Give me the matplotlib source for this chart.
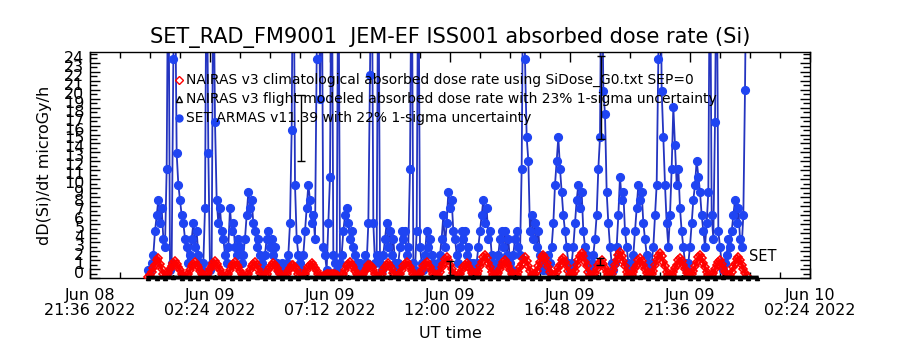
import numpy as np
import matplotlib
matplotlib.use("Agg")
import matplotlib.pyplot as plt
import matplotlib.dates as mdates
from matplotlib.ticker import MultipleLocator
from matplotlib.lines import Line2D

plt.rcParams['font.family'] = ['DejaVu Sans']

# ---------------- data ----------------
title = "SET_RAD_FM9001  JEM-EF ISS001 absorbed dose rate (Si)"
ylabel = "dD(Si)/dt microGy/h"
xlabel = "UT time"
legend_labels = [
    "NAIRAS v3 climatological absorbed dose rate using SiDose_G0.txt SEP=0",
    "NAIRAS v3 flight modeled absorbed dose rate with 23% 1-sigma uncertainty",
    "SET ARMAS v11.39 with 22% 1-sigma uncertainty",
]
xtick_times = ['2022-06-08T21:36', '2022-06-09T02:24', '2022-06-09T07:12',
               '2022-06-09T12:00', '2022-06-09T16:48', '2022-06-09T21:36',
               '2022-06-10T02:24']
xtick_labels = ['Jun 08\n21:36 2022', 'Jun 09\n02:24 2022', 'Jun 09\n07:12 2022',
                'Jun 09\n12:00 2022', 'Jun 09\n16:48 2022', 'Jun 09\n21:36 2022',
                'Jun 10\n02:24 2022']
ytick_values = list(range(0, 25))
ytick_labels = [str(v) for v in ytick_values]

# SET ARMAS measured dose rate, 4-minute samples starting 2022-06-08 23:56 UT
set_start = '2022-06-08T23:56'
set_step_min = 4
set_dose = [
    0.9, 0.9, 1.7, 2.6, 5.2, 7.0, 8.7, 6.1, 7.8, 4.4,
    3.5, 12.2, 40, 0.9, 1.7, 24.4, 35, 13.9, 10.4, 8.7,
    7.0, 6.1, 4.4, 3.5, 1.7, 2.6, 4.4, 6.1, 3.5, 5.2,
    2.6, 1.7, 0.9, 1.7, 7.8, 40, 13.9, 0.9, 1.7, 38,
    17.4, 8.7, 6.1, 7.8, 5.2, 4.4, 2.6, 1.7, 3.5, 7.8,
    5.2, 6.1, 3.5, 2.6, 4.4, 3.5, 1.7, 2.6, 4.4, 7.0,
    9.6, 7.8, 8.7, 6.1, 5.2, 3.5, 4.4, 2.6, 1.7, 0.9,
    2.6, 4.4, 5.2, 3.5, 4.4, 2.6, 3.5, 1.7, 0.9, 0.9,
    1.7, 0.9, 0.9, 1.7, 2.6, 6.1, 16.5, 45, 10.4, 4.4,
    2.6, 1.7, 0.9, 2.6, 5.2, 7.8, 10.4, 8.7, 6.1, 7.0,
    4.4, 24.4, 40, 20.0, 38, 3.5, 2.6, 0.9, 6.1, 11.3,
    42, 2.6, 1.7, 0.9, 40, 1.7, 2.6, 5.2, 7.0, 7.8,
    6.1, 4.4, 5.2, 3.5, 2.6, 1.7, 0.9, 1.7, 0.9, 0.9,
    2.6, 1.7, 6.1, 22.6, 40, 6.1, 1.7, 2.6, 40, 1.7,
    0.9, 2.6, 4.4, 6.1, 3.5, 5.2, 2.6, 4.4, 1.7, 0.9,
    1.7, 3.5, 5.2, 4.4, 5.2, 2.6, 3.5, 12.2, 40, 1.7,
    0.9, 5.2, 40, 3.5, 1.7, 0.9, 2.6, 5.2, 3.5, 4.4,
    2.6, 1.7, 0.9, 0.9, 1.7, 2.6, 4.4, 7.0, 3.5, 6.1,
    9.6, 7.8, 8.7, 5.2, 4.4, 2.6, 1.7, 3.5, 5.2, 4.4,
    5.2, 2.6, 3.5, 1.7, 0.9, 1.7, 0.9, 1.7, 3.5, 5.2,
    7.0, 8.7, 6.1, 7.8, 4.4, 5.2, 2.6, 1.7, 0.9, 1.7,
    2.6, 4.4, 5.2, 3.5, 5.2, 2.6, 4.4, 1.7, 0.9, 2.6,
    4.4, 5.2, 3.5, 2.6, 12.2, 38, 24.4, 15.7, 13.1, 5.2,
    7.0, 4.4, 6.1, 3.5, 5.2, 2.6, 1.7, 0.9, 1.7, 0.9,
    2.6, 1.7, 3.5, 6.1, 10.4, 13.1, 15.7, 12.2, 9.6, 7.0,
    5.2, 3.5, 1.7, 0.9, 1.7, 3.5, 6.1, 8.7, 10.4, 7.8,
    9.6, 5.2, 3.5, 2.6, 1.7, 0.9, 1.7, 2.6, 4.4, 7.0,
    12.2, 15.7, 40, 20.9, 18.3, 9.6, 6.1, 3.5, 1.7, 0.9,
    1.7, 3.5, 7.0, 11.3, 8.7, 9.6, 5.2, 3.5, 1.7, 0.9,
    1.7, 2.6, 5.2, 7.8, 10.4, 8.7, 9.6, 6.1, 4.4, 2.6,
    1.7, 0.9, 1.7, 3.5, 7.0, 10.4, 24.4, 45, 20.9, 15.7,
    10.4, 6.1, 3.5, 7.0, 12.2, 19.1, 14.8, 10.4, 12.2, 7.8,
    5.2, 3.5, 1.7, 0.9, 1.7, 3.5, 6.1, 8.7, 10.4, 13.1,
    11.3, 9.6, 7.0, 5.2, 3.5, 6.1, 9.6, 40, 7.0, 4.4,
    17.4, 40, 5.2, 3.5, 1.7, 0.9, 1.7, 2.6, 4.4, 3.5,
    5.2, 7.0, 8.7, 6.1, 7.8, 4.4, 3.5, 7.0, 21.0, 40,
]

# NAIRAS climatological dose rate, same 4-minute grid
nairas_clim = [
    0.1, 0.3, 0.7, 1.1, 1.5, 2.0, 2.2, 1.6, 1.0, 0.4,
    0.1, 0.3, 0.6, 1.0, 1.3, 1.7, 1.9, 1.6, 1.2, 0.9, 0.5, 0.2,
    0.1, 0.3, 0.5, 0.9, 1.3, 1.6, 1.8, 1.5, 1.2, 0.8, 0.5, 0.2,
    0.1, 0.3, 0.6, 1.0, 1.3, 1.7, 1.9, 1.6, 1.2, 0.9, 0.5, 0.2,
    0.1, 0.3, 0.5, 0.9, 1.3, 1.6, 1.8, 1.5, 1.2, 0.8, 0.5, 0.2,
    0.1, 0.3, 0.5, 0.9, 1.3, 1.6, 1.8, 1.4, 1.0, 0.6, 0.3,
    0.1, 0.3, 0.5, 0.9, 1.2, 1.5, 1.7, 1.4, 1.1, 0.8, 0.4, 0.2,
    0.1, 0.2, 0.5, 0.8, 1.1, 1.4, 1.5, 1.2, 0.9, 0.5, 0.2,
    0.1, 0.3, 0.5, 0.9, 1.2, 1.5, 1.7, 1.4, 1.1, 0.8, 0.4, 0.2,
    0.1, 0.2, 0.3, 0.4, 0.5, 0.5, 0.5, 0.5, 0.4, 0.3, 0.2,
    0.1, 0.3, 0.5, 0.9, 1.3, 1.6, 1.8, 1.5, 1.2, 0.8, 0.5, 0.2,
    0.1, 0.2, 0.5, 0.8, 1.1, 1.4, 1.5, 1.2, 0.9, 0.5, 0.2,
    0.1, 0.3, 0.5, 0.9, 1.2, 1.5, 1.7, 1.3, 1.0, 0.6, 0.3,
    0.1, 0.3, 0.5, 0.9, 1.3, 1.6, 1.8, 1.5, 1.2, 0.8, 0.5, 0.2,
    0.1, 0.3, 0.5, 0.9, 1.3, 1.6, 1.8, 1.5, 1.2, 0.8, 0.5, 0.2,
    0.1, 0.3, 0.7, 1.2, 1.6, 2.1, 2.3, 2.0, 1.5, 1.0, 0.6, 0.2,
    0.1, 0.3, 0.5, 0.9, 1.2, 1.5, 1.7, 1.3, 1.0, 0.6, 0.3,
    0.1, 0.4, 0.8, 1.3, 1.8, 2.3, 2.6, 2.2, 1.7, 1.2, 0.7, 0.3,
    0.1, 0.3, 0.6, 1.0, 1.4, 1.8, 2.0, 1.7, 1.3, 0.9, 0.5, 0.2,
    0.1, 0.3, 0.7, 1.2, 1.6, 2.1, 2.3, 1.9, 1.3, 0.8, 0.3,
    0.1, 0.4, 0.8, 1.3, 1.8, 2.3, 2.6, 2.2, 1.7, 1.2, 0.7, 0.3,
    0.1, 0.3, 0.7, 1.1, 1.5, 2.0, 2.2, 1.8, 1.3, 0.8, 0.3,
    0.1, 0.4, 0.8, 1.4, 2.0, 2.5, 2.8, 2.4, 1.8, 1.3, 0.7, 0.3,
    0.1, 0.3, 0.6, 1.0, 1.4, 1.8, 2.0, 1.6, 1.1, 0.7, 0.3,
    0.1, 0.4, 0.9, 1.5, 2.0, 2.6, 2.9, 2.5, 1.9, 1.3, 0.7, 0.3,
    0.1, 0.3, 0.7, 1.1, 1.5, 2.0, 2.2, 1.9, 1.4, 1.0, 0.6, 0.2,
    0.1, 0.4, 0.8, 1.4, 2.0, 2.5, 2.8, 2.4, 1.8, 1.3, 0.7, 0.3,
    0.1, 0.3, 0.7, 1.1, 1.5, 2.0, 2.2, 1.9, 1.4, 1.0, 0.6, 0.2,
    0.1, 0.4, 0.8, 1.3, 1.8, 2.3, 2.6, 2.2, 1.7, 1.2, 0.7, 0.3,
    0.1, 0.3, 0.6, 1.0, 1.4, 1.8, 2.0, 1.6, 1.1, 0.7, 0.3,
    0.1, 0.3, 0.7, 1.2, 1.6, 2.1, 2.3, 2.0, 1.5, 1.0, 0.6, 0.2,
]

# NAIRAS flight modeled dose rate, 20-minute samples
flight_start = '2022-06-08T23:56'
flight_step_min = 20
nairas_flight = [
    0.04, 0.05, 0.04, 0.06, 0.05, 0.04, 0.05, 0.05, 0.06, 0.04,
    0.05, 0.04, 0.05, 0.06, 0.05, 0.04, 0.05, 0.05, 0.04, 0.06,
    0.05, 0.04, 0.05, 0.05, 0.06, 0.04, 0.05, 0.04, 0.05, 0.06,
    0.05, 0.04, 0.05, 0.05, 0.06, 0.04, 0.05, 0.04, 0.05, 0.06,
    0.05, 0.04, 0.05, 0.05, 0.06, 0.04, 0.05, 0.04, 0.05, 0.06,
    0.05, 0.04, 0.05, 0.05, 0.06, 0.04, 0.05, 0.04, 0.05, 0.06,
    0.05, 0.04, 0.05, 0.05, 0.06, 0.04, 0.05, 0.04, 0.05, 0.06,
    0.05, 0.04, 0.05, 0.05,
]
# flight-model points with 1-sigma error bars
err_times = ['2022-06-09T06:02', '2022-06-09T12:00', '2022-06-09T18:00',
             '2022-06-09T18:02', '2022-06-10T00:00']
err_values = [16.7, 1.15, 1.8, 20.1, 0.1]
err_sigma = [3.7, 0.8, 0.4, 4.6, 0.05]

set_label = "SET"
set_label_value = 2.45

# ---------------- figure ----------------
fig = plt.figure(figsize=(9, 3.5), dpi=100)
W, H = 900.0, 350.0
ax = fig.add_axes([90 / W, 1 - 278 / H, 720 / W, 226 / H])


def to_num(arr):
    return mdates.date2num(np.asarray(arr).astype('datetime64[s]').astype(object))


t_set = np.datetime64(set_start) + np.arange(len(set_dose)) * np.timedelta64(set_step_min, 'm')
t_clim = np.datetime64(set_start) + np.arange(len(nairas_clim)) * np.timedelta64(set_step_min, 'm')
t_flight = np.datetime64(flight_start) + np.arange(len(nairas_flight)) * np.timedelta64(flight_step_min, 'm')
x_set = to_num(t_set)
x_clim = to_num(t_clim)
x_flight = to_num(t_flight)
x_err = to_num(np.array(err_times, dtype='datetime64[m]'))
x_ticks = to_num(np.array(xtick_times, dtype='datetime64[m]'))

blue_line = '#2434c0'
blue_mark = '#1f44f2'

ax.plot(x_set, set_dose, '-', color=blue_line, lw=1.3, zorder=2)
ax.plot(x_set, set_dose, 'o', color=blue_mark, ms=5.6, mec=blue_mark, zorder=2.1)
ax.plot(x_clim, nairas_clim, '-', color='red', lw=2.4, zorder=3)
ax.plot(x_clim, nairas_clim, 'D', ms=4.4, mfc='none', mec='red', mew=1.2, zorder=3.1)
ax.plot(x_flight, nairas_flight, '-', color='black', lw=2.8, zorder=4, clip_on=False)
ax.plot(x_flight, nairas_flight, '^', ms=3, color='black', zorder=4, clip_on=False)
ax.errorbar(x_err, err_values, yerr=err_sigma, fmt='none', ecolor='black',
            elinewidth=1.0, capsize=3, capthick=1.0, zorder=5)

ax.text(x_set[-1] + 0.004, set_label_value, set_label, fontsize=10.5,
        ha='left', va='center', zorder=6)

ax.set_xlim(x_ticks[0], x_ticks[-1])
ax.set_ylim(0, 25.2)

ax.set_xticks(x_ticks, xtick_labels, linespacing=1.0)
ax.xaxis.set_minor_locator(MultipleLocator(0.05))
ax.set_yticks(ytick_values, ytick_labels, va='baseline')
ax.yaxis.set_minor_locator(MultipleLocator(0.5))

ax.tick_params(axis='x', which='major', direction='in', length=7, width=1,
               top=True, bottom=True, labelsize=11.5, pad=7)
ax.tick_params(axis='x', which='minor', direction='in', length=4, width=1,
               top=True, bottom=True)
ax.tick_params(axis='y', which='major', direction='in', length=7, width=1,
               left=True, right=True, labelsize=11.5, pad=4)
ax.tick_params(axis='y', which='minor', direction='in', length=5, width=1,
               left=True, right=True)
for sp in ax.spines.values():
    sp.set_linewidth(1.0)

fig.text(0.5, 1 - 37 / H, title, fontsize=15, ha='center', va='center')
fig.text(45 / W, 1 - 165 / H, ylabel, fontsize=11.5, rotation=90, ha='center', va='center')
fig.text(450 / W, 1 - 333 / H, xlabel, fontsize=11.5, ha='center', va='center')

# legend (IDL style, no frame)
leg_y = [80, 99, 118]
leg_handles = [
    dict(marker='D', mfc='none', mec='red', ms=4, mew=1),
    dict(marker='^', mfc='none', mec='black', ms=4.5, mew=1),
    dict(marker='o', mfc=blue_mark, mec=blue_mark, ms=5),
]
for y, lab, h in zip(leg_y, legend_labels, leg_handles):
    fig.add_artist(Line2D([179 / W], [1 - y / H], transform=fig.transFigure, ls='none', **h))
    fig.text(186 / W, 1 - y / H, lab, fontsize=10, ha='left', va='center')

fig.savefig('out.png', dpi=100)
